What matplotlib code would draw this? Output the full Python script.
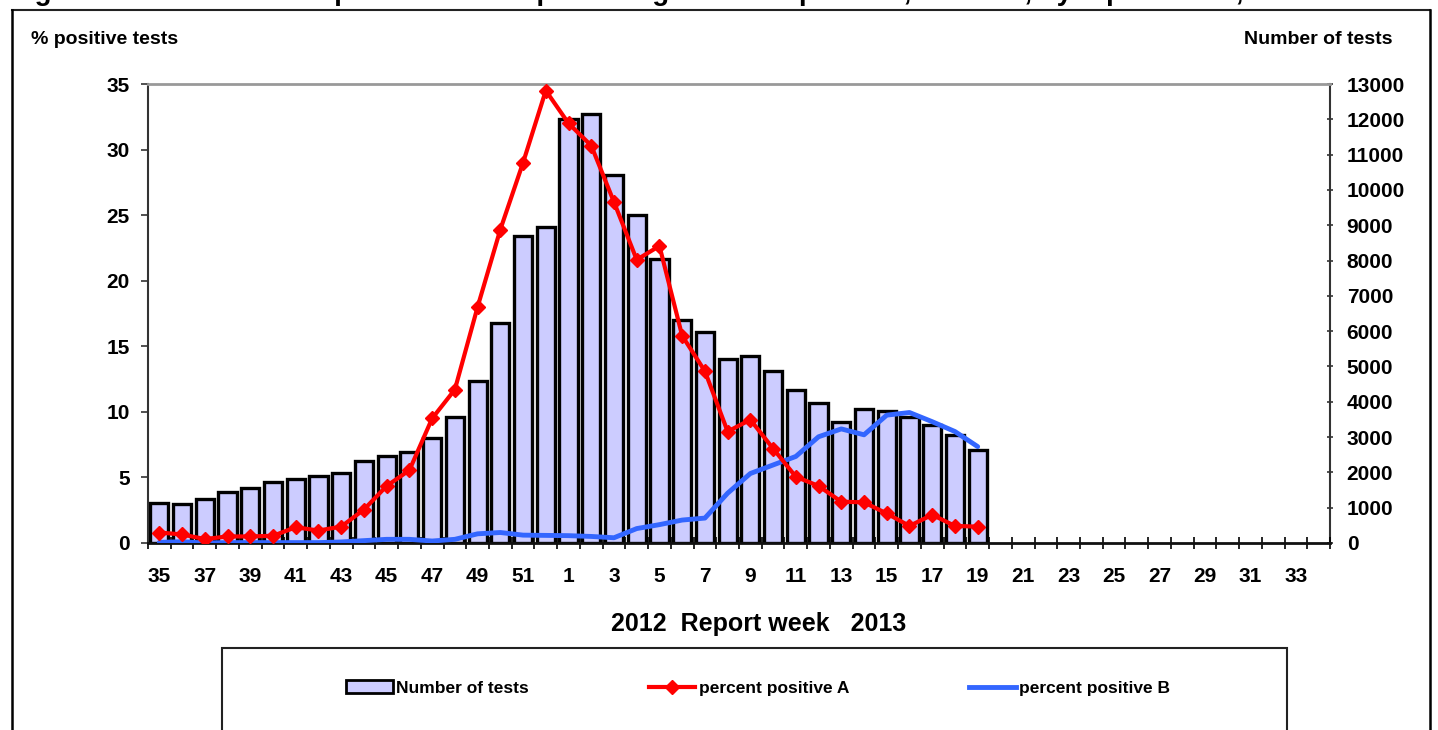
import matplotlib
matplotlib.use("Agg")
import matplotlib.pyplot as plt
import matplotlib.font_manager as fm
from matplotlib.lines import Line2D
from matplotlib.patches import Patch, Rectangle
import numpy as np

# ---------------- data ----------------
weeks = [str(w) for w in list(range(35, 53)) + list(range(1, 35))]
tests = [1120, 1100, 1260, 1450, 1550, 1740, 1820, 1900, 1975, 2320, 2465, 2575, 2965, 3580,
         4600, 6230, 8695, 8950, 12010, 12150, 10420, 9290, 8040, 6315, 5975, 5210, 5295,
         4870, 4335, 3965, 3425, 3795, 3740, 3570, 3340, 3060, 2635]
pos_a = [0.8, 0.65, 0.3, 0.5, 0.5, 0.55, 1.2, 0.95, 1.25, 2.55, 4.35, 5.55, 9.5, 11.7,
         18.0, 23.9, 29.0, 34.5, 32.0, 30.3, 26.0, 21.6, 22.65, 15.8, 13.1, 8.5, 9.4,
         7.2, 5.05, 4.35, 3.15, 3.1, 2.25, 1.3, 2.15, 1.3, 1.25]
pos_b = [0.05, 0.1, 0.0, 0.03, 0.03, 0.03, 0.03, 0.03, 0.08, 0.18, 0.28, 0.28, 0.15, 0.28,
         0.7, 0.8, 0.6, 0.58, 0.56, 0.5, 0.4, 1.1, 1.4, 1.75, 1.9, 3.8, 5.3, 5.95, 6.6,
         8.1, 8.7, 8.25, 9.75, 9.95, 9.25, 8.5, 7.35]
left_ticks = list(range(0, 36, 5))
right_ticks = list(range(0, 13001, 1000))
title = ("Figure 2. Influenza tests performed and percentage of tests positive, "
         "Sweden, by report week, 2012-2013")

# ---------------- fonts ----------------
names = {f.name for f in fm.fontManager.ttflist}
FONT = 'Liberation Sans' if 'Liberation Sans' in names else 'DejaVu Sans'
plt.rcParams['font.family'] = [FONT, 'DejaVu Sans']
plt.rcParams['font.weight'] = 'bold'

W, H = 1438, 730
fig = plt.figure(figsize=(W / 100, H / 100), dpi=100)
fig.patch.set_facecolor('white')

def fx(px):
    return px / W

def fy(py):
    return 1 - py / H

ax_l, ax_r, ax_t, ax_b = 148, 1330, 84, 543
ax = fig.add_axes([fx(ax_l), fy(ax_b), fx(ax_r - ax_l), (ax_b - ax_t) / H])
ax2 = ax.twinx()
ax.set_zorder(ax2.get_zorder() + 1)
ax.patch.set_visible(False)

n = len(weeks)
x = np.arange(n)
xb = np.arange(len(tests))

ax2.bar(xb, tests, width=0.8, color='#CCCCFF', edgecolor='black', linewidth=2.4, zorder=2)
ax.plot(xb, pos_a, color='#FF0000', lw=3, marker='D', ms=7.5, mec='#FF0000', zorder=4,
        solid_joinstyle='round')
ax.plot(xb, pos_b, color='#3366FF', lw=3.5, zorder=3, solid_joinstyle='round',
        solid_capstyle='round')

ax.set_xlim(-0.5, n - 0.5)
ax.set_ylim(0, 35)
ax2.set_ylim(0, 13000)

ax.set_yticks(left_ticks)
ax.set_yticklabels([str(v) for v in left_ticks])
ax2.set_yticks(right_ticks)
ax2.set_yticklabels([str(v) for v in right_ticks])

ax.set_xticks(x[::2])
ax.set_xticklabels(weeks[::2])
ax.set_xticks(np.arange(-0.5, n, 1.0), minor=True)
ax.tick_params(axis='x', which='major', length=0, pad=17.5, labelsize=15)
ax.tick_params(axis='x', which='minor', direction='inout', length=8, width=1.2,
               color='black')
ax.tick_params(axis='y', which='major', direction='out', length=5, width=1.2, pad=8,
               labelsize=15, color='#333333')
ax2.tick_params(axis='y', which='major', direction='inout', length=4, width=1.2, pad=10,
                labelsize=15, color='#333333')

for s in ['top', 'left', 'right', 'bottom']:
    ax2.spines[s].set_visible(False)
ax2.spines['right'].set_visible(True)
ax2.spines['right'].set_color('#333333')
ax2.spines['right'].set_linewidth(1.5)
ax.spines['right'].set_visible(False)
ax.spines['top'].set_color('#999999')
ax.spines['top'].set_linewidth(2)
ax.spines['left'].set_color('#333333')
ax.spines['left'].set_linewidth(1.5)
ax.spines['bottom'].set_color('#111111')
ax.spines['bottom'].set_linewidth(2)

# axis titles
fig.text(fx(31), fy(40), '% positive tests', ha='left', va='center', fontsize=14,
         fontweight='bold')
fig.text(fx(1393), fy(40), 'Number of tests', ha='right', va='center', fontsize=14,
         fontweight='bold')
fig.text(fx(759), fy(624), '2012  Report week   2013', ha='center', va='center',
         fontsize=18, fontweight='bold')

# cut-off figure title at the very top (as in the reference)
fig.text(fx(10.5), fy(0.5), title, ha='left', va='baseline', fontsize=20,
         fontweight='bold')

# outer frame
fig.add_artist(Line2D([fx(12), fx(1430)], [fy(10), fy(10)], transform=fig.transFigure,
                      color='#222222', lw=1.5))
fig.add_artist(Line2D([fx(12), fx(12)], [fy(10), fy(740)], transform=fig.transFigure,
                      color='black', lw=1.8))
fig.add_artist(Line2D([fx(1430), fx(1430)], [fy(10), fy(740)], transform=fig.transFigure,
                      color='black', lw=1.8))

# legend box
fig.add_artist(Rectangle((fx(222), fy(760)), fx(1287 - 222), (760 - 648) / H,
                         transform=fig.transFigure, fill=False, edgecolor='#222222',
                         lw=1.5))

handles = [Patch(facecolor='#CCCCFF', edgecolor='black', linewidth=2),
           Line2D([], [], color='#FF0000', lw=3, marker='D', ms=7.5),
           Line2D([], [], color='#3366FF', lw=3.5)]
labels = ['Number of tests', 'percent positive A', 'percent positive B']
fig.legend(handles, labels, ncol=3, loc='center', bbox_to_anchor=(fx(758), fy(688)),
           frameon=False, prop={'size': 12.5, 'weight': 'bold'}, handlelength=2.7,
           handletextpad=0.2, columnspacing=6.9, handleheight=0.75)

fig.savefig('out.png', dpi=100, facecolor='white')
